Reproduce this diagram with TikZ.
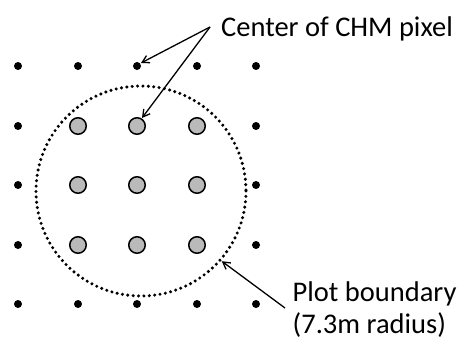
\documentclass[tikz,border=0pt]{standalone}
\usepackage{fontspec}
\setmainfont{Carlito}
\usetikzlibrary{arrows.meta,calc}
\begin{document}
\begin{tikzpicture}[x=1pt,y=-1pt,
  smalldot/.style={circle,fill=black,inner sep=0pt,minimum size=8pt},
  pixdot/.style={circle,draw=black,line width=1.5pt,fill=black!27,inner sep=0pt,minimum size=16.5pt},
  label/.style={font=\fontsize{28.5}{32.5}\selectfont,inner sep=0pt,anchor=base west,align=left},
  pointer/.style={line width=1.3pt,-{Straight Barb[length=7pt,width=8pt,line width=1.3pt]}}]
\useasboundingbox (0,0) rectangle (465,340);
% 5x5 grid of CHM pixel centres; inner 3x3 fall within the plot
\foreach \i/\x in {1/18,2/78,3/137,4/197,5/256}{
  \foreach \j/\y in {1/66,2/126,3/185,4/245,5/304}{
    \pgfmathtruncatemacro{\inner}{(\i>1)&&(\i<5)&&(\j>1)&&(\j<5)}
    \ifnum\inner=1
      \node[pixdot] (p\i\j) at (\x,\y) {};
    \else
      \node[smalldot] (p\i\j) at (\x,\y) {};
    \fi
  }
}
% plot boundary
\coordinate (ctr) at (141,191);
\draw[line width=3.4pt,line cap=round,dash pattern=on 0pt off 5.4pt] (ctr) circle[radius=105];
\coordinate (bnd) at ($(ctr)+(41:107)$);
% labels
\node[label] (chm) at (221,36) {Center of CHM pixel};
\node[label] (plot) at (292.5,333.5) {Plot boundary\\(7.3m radius)};
\coordinate (chmstart) at (210,27);
\coordinate (plotstart) at (285,308);
\draw[pointer] (chmstart) -- ([shift={(4,-3)}]p31.center);
\draw[pointer] (chmstart) -- ([shift={(5,-8)}]p32.center);
\draw[pointer] (plotstart) -- (bnd);
\end{tikzpicture}
\end{document}
